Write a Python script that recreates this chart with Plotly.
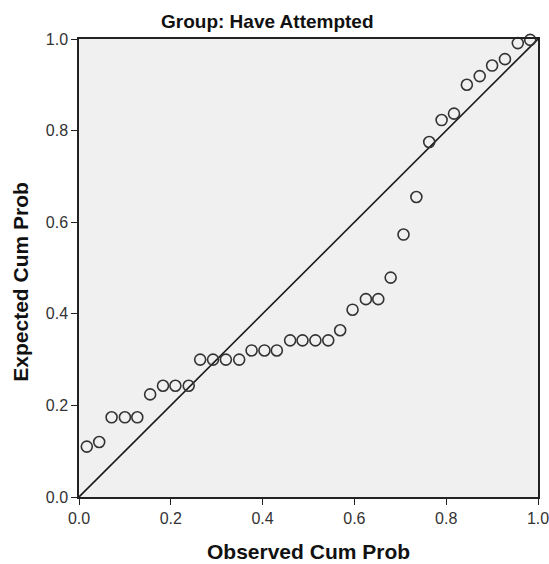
import plotly.graph_objects as go

observed = [0.017, 0.044, 0.071, 0.100, 0.127, 0.155, 0.183, 0.210, 0.239, 0.264,
            0.292, 0.320, 0.349, 0.376, 0.404, 0.431, 0.460, 0.487, 0.515, 0.543,
            0.569, 0.596, 0.625, 0.652, 0.679, 0.707, 0.735, 0.763, 0.790, 0.817,
            0.845, 0.873, 0.900, 0.928, 0.956, 0.983]
expected = [0.110, 0.120, 0.174, 0.174, 0.174, 0.224, 0.243, 0.243, 0.243, 0.300,
            0.300, 0.300, 0.300, 0.320, 0.320, 0.320, 0.342, 0.342, 0.342, 0.342,
            0.364, 0.409, 0.432, 0.432, 0.479, 0.573, 0.655, 0.775, 0.823, 0.837,
            0.900, 0.919, 0.942, 0.956, 0.991, 0.998]
ref_line = [0.0, 1.0]
tick_vals = [0.0, 0.2, 0.4, 0.6, 0.8, 1.0]
tick_text = ["0.0", "0.2", "0.4", "0.6", "0.8", "1.0"]

fig = go.Figure()
fig.add_trace(go.Scatter(x=ref_line, y=ref_line, mode="lines",
                         line=dict(color="#1a1a1a", width=1.6),
                         hoverinfo="skip", showlegend=False))
fig.add_trace(go.Scatter(x=observed, y=expected, mode="markers",
                         marker=dict(symbol="circle-open", size=11,
                                     line=dict(color="#333333", width=1.6),
                                     color="#333333"),
                         cliponaxis=False, showlegend=False))

axis_common = dict(range=[0, 1], tickvals=tick_vals, ticktext=tick_text,
                   ticks="outside", ticklen=6, tickwidth=1.3, tickcolor="#222",
                   showline=True, linecolor="#222", linewidth=1.5, mirror=True,
                   showgrid=False, zeroline=False, automargin=False,
                   ticklabeloverflow="allow",
                   tickfont=dict(family="Liberation Sans, Arial", size=16, color="#333"))

fig.update_layout(
    width=549, height=564,
    margin=dict(l=79, r=11, t=39, b=66.5),
    paper_bgcolor="white", plot_bgcolor="#F0F0F0",
    xaxis=dict(**axis_common),
    yaxis=dict(**axis_common),
    annotations=[
        dict(text="<b>Group: Have Attempted</b>", xref="paper", yref="paper",
             x=0.41, y=1.0, yshift=18, xanchor="center", yanchor="middle",
             showarrow=False,
             font=dict(family="Liberation Sans, Arial", size=19, color="#111")),
        dict(text="<b>Observed Cum Prob</b>", xref="paper", yref="paper",
             x=0.5, y=0, yshift=-54, xanchor="center", yanchor="middle",
             showarrow=False,
             font=dict(family="Liberation Sans, Arial", size=21, color="#111")),
        dict(text="<b>Expected Cum Prob</b>", xref="paper", yref="paper",
             x=0, xshift=-58, y=0.47, textangle=-90, xanchor="center",
             yanchor="middle", showarrow=False,
             font=dict(family="Liberation Sans, Arial", size=21, color="#111")),
    ],
)

fig.write_html("out.html",
               config={"displayModeBar": False},
               post_script="document.body.style.margin='0';document.body.style.overflow='hidden';")
